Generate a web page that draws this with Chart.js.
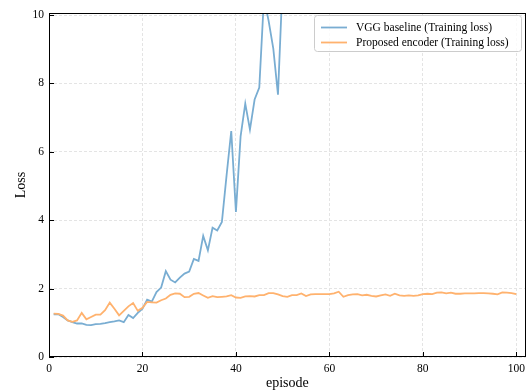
<!DOCTYPE html>
<html>
<head>
<meta charset="utf-8">
<script src="https://cdn.jsdelivr.net/npm/chart.js@4.4.1/dist/chart.umd.min.js"></script>
<style>
    html, body {margin: 0; padding: 0; background: #fff;}
    #wrap {width: 530px; height: 392px;}
</style>
</head>
<body>
<div id="wrap"><canvas id="chart" width="530" height="392"></canvas></div>
<script>
// episodes 1..100
const episodes = Array.from({length: 100}, (_, i) => i + 1);

// VGG baseline diverges and leaves the plot after ~episode 50
const vggLoss = [
    1.25, 1.25, 1.17, 1.07, 1.02, 0.98, 0.98, 0.94, 0.93, 0.96,
    0.97, 0.99, 1.02, 1.04, 1.07, 1.02, 1.23, 1.14, 1.29, 1.41,
    1.68, 1.62, 1.90, 2.03, 2.51, 2.26, 2.18, 2.32, 2.44, 2.50,
    2.87, 2.81, 3.54, 3.12, 3.78, 3.70, 3.95, 5.31, 6.61, 4.24,
    6.45, 7.41, 6.65, 7.53, 7.88, 10.5, 9.83, 9.02, 7.67, 11.0
];

const encoderLoss = [
    1.27, 1.26, 1.21, 1.07, 1.03, 1.07, 1.29, 1.10, 1.17, 1.24,
    1.24, 1.37, 1.59, 1.41, 1.22, 1.35, 1.48, 1.58, 1.35, 1.44,
    1.61, 1.60, 1.59, 1.66, 1.71, 1.82, 1.86, 1.85, 1.75, 1.76,
    1.85, 1.87, 1.80, 1.73, 1.78, 1.75, 1.76, 1.77, 1.81, 1.74,
    1.73, 1.77, 1.78, 1.77, 1.81, 1.81, 1.87, 1.87, 1.83, 1.78,
    1.76, 1.81, 1.81, 1.86, 1.78, 1.83, 1.84, 1.84, 1.84, 1.84,
    1.86, 1.91, 1.76, 1.81, 1.83, 1.84, 1.80, 1.82, 1.79, 1.77,
    1.80, 1.83, 1.79, 1.85, 1.80, 1.79, 1.80, 1.79, 1.80, 1.84,
    1.85, 1.84, 1.88, 1.89, 1.86, 1.88, 1.85, 1.85, 1.86, 1.86,
    1.86, 1.87, 1.87, 1.86, 1.85, 1.83, 1.89, 1.88, 1.87, 1.84
];

const xTicks = [0, 20, 40, 60, 80, 100];
const yTicks = [0, 2, 4, 6, 8, 10];

const seriesLabels = ['VGG baseline (Training loss)', 'Proposed encoder (Training loss)'];
const seriesColors = ['#79add2', '#ffb26e'];

const serif = "'Liberation Serif', 'DejaVu Serif', 'Times New Roman', serif";
Chart.defaults.font.family = serif;
Chart.defaults.color = '#000';

const toPoints = arr => arr.map((v, i) => ({x: episodes[i], y: v}));

// matplotlib-ish frame, inward ticks and legend
const framePlugin = {
    id: 'frame',
    afterDatasetsDraw(chart) {
        const {ctx, chartArea: a, scales: {x, y}} = chart;
        ctx.save();
        ctx.strokeStyle = '#000';
        ctx.lineWidth = 1;
        ctx.beginPath();
        xTicks.forEach(v => {
            const px = Math.round(x.getPixelForValue(v)) + 0.5;
            ctx.moveTo(px, a.bottom);
            ctx.lineTo(px, a.bottom - 5);
        });
        yTicks.forEach(v => {
            const py = Math.round(y.getPixelForValue(v)) + 0.5;
            ctx.moveTo(a.left, py);
            ctx.lineTo(a.left + 5, py);
        });
        ctx.stroke();
        ctx.strokeRect(Math.round(a.left) + 0.5, Math.round(a.top) + 0.5,
            Math.round(a.right - a.left) - 1, Math.round(a.bottom - a.top) - 1);

        // legend box
        const lx = 314.5, ly = 15.5, lw = 207, lh = 36;
        ctx.beginPath();
        ctx.roundRect(lx, ly, lw, lh, 3);
        ctx.fillStyle = 'rgba(255,255,255,0.8)';
        ctx.fill();
        ctx.strokeStyle = '#cccccc';
        ctx.stroke();
        ctx.font = '11.5px ' + serif;
        ctx.textBaseline = 'middle';
        ctx.textAlign = 'left';
        chart.data.datasets.forEach((ds, i) => {
            const rowY = 27.5 + i * 15;
            ctx.strokeStyle = ds.borderColor;
            ctx.lineWidth = 1.8;
            ctx.beginPath();
            ctx.moveTo(321, rowY);
            ctx.lineTo(347, rowY);
            ctx.stroke();
            ctx.fillStyle = '#000';
            ctx.fillText(ds.label, 356, rowY + 0.5);
        });
        ctx.restore();
    }
};

new Chart(document.getElementById('chart'), {
    type: 'line',
    data: {
        datasets: [
            {
                label: seriesLabels[0],
                data: toPoints(vggLoss),
                borderColor: seriesColors[0],
                borderWidth: 1.8,
                pointRadius: 0,
                tension: 0,
                clip: 0,
                order: 1
            },
            {
                label: seriesLabels[1],
                data: toPoints(encoderLoss),
                borderColor: seriesColors[1],
                borderWidth: 1.8,
                pointRadius: 0,
                tension: 0,
                clip: 0,
                order: 0
            }
        ]
    },
    options: {
        responsive: false,
        animation: false,
        events: [],
        layout: {padding: {top: 13, right: 4, left: 0, bottom: 0}},
        plugins: {
            legend: {display: false},
            tooltip: {enabled: false}
        },
        scales: {
            x: {
                type: 'linear',
                min: 0,
                max: 102,
                afterBuildTicks: scale => { scale.ticks = xTicks.map(v => ({value: v})); },
                afterFit: scale => { scale.height = 35; },
                grid: {color: '#e4e4e4', lineWidth: 1, drawTicks: false},
                border: {display: false, dash: [3, 2]},
                ticks: {padding: 5, font: {size: 11.5}, color: '#000', maxRotation: 0},
                title: {display: true, text: 'episode', font: {size: 14}, color: '#000', padding: {top: 0, bottom: 0}}
            },
            y: {
                type: 'linear',
                min: 0,
                max: 10.06,
                afterBuildTicks: scale => { scale.ticks = yTicks.map(v => ({value: v})); },
                afterFit: scale => { scale.width = 49; },
                grid: {color: '#e4e4e4', lineWidth: 1, drawTicks: false},
                border: {display: false, dash: [3, 2]},
                ticks: {padding: 5, font: {size: 11.5}, color: '#000'},
                title: {display: true, text: 'Loss', font: {size: 14}, color: '#000', padding: {top: 13, bottom: 0}}
            }
        }
    },
    plugins: [framePlugin]
});
</script>
</body>
</html>
